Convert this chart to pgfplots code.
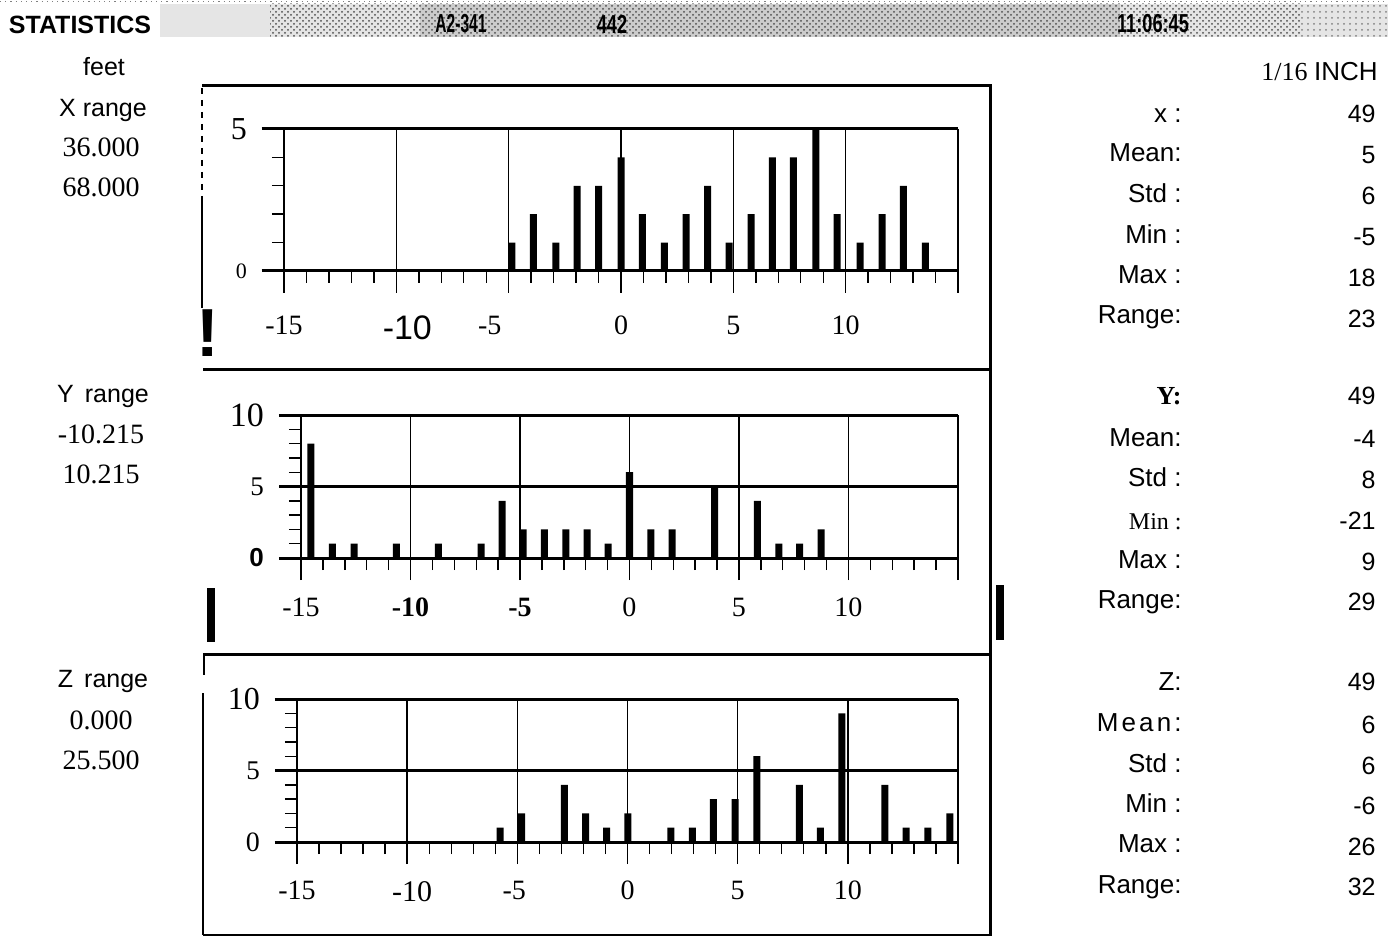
\documentclass[border=0pt]{standalone}
\usepackage{fontspec}
\setmainfont{Liberation Serif}
\setsansfont{Liberation Sans}
\usepackage{pgfplots}
\pgfplotsset{compat=1.18}
\usetikzlibrary{patterns}
\newcommand{\sx}[2]{\makebox[0pt]{\hspace*{#1}#2\hspace*{-#1}}}
\newcommand{\fs}[1]{\fontsize{#1}{#1}\selectfont}

\pgfplotsset{hist/.style={
  scale only axis, clip=false, anchor=south west,
  xmin=-15, xmax=15,
  axis line style={draw=none},
  xtick={-15,-10,...,15},
  minor xtick={-14,...,14},
  xtick pos=bottom, ytick pos=left, tick align=outside,
  major tick length=11pt, minor tick length=6pt,
  xmajorgrids, major grid style={line width=0.7pt, black},
  every tick/.style={black, line width=0.7pt},
  yticklabel style={xshift=-4pt},
  ybar, bar width=3.5pt,
}}

\begin{document}
\begin{tikzpicture}
% ---------------- X histogram
\begin{axis}[hist, at={(142pt,-135.5pt)}, width=337pt, height=71pt,
  ymin=0, ymax=5, ytick={0,5}, minor ytick={1,2,3,4},
  yticklabels={{\fs{11}0},{\fs{16}5}},
  xticklabels={{\fs{14}-15},{\sx{5.5pt}{\sffamily\fs{17}-10}},{\sx{-9.5pt}{\fs{14}-5}},{\fs{14}0},{\fs{14}5},{\fs{14}10},{}},
  xticklabel style={yshift=-8pt}]
\addplot[fill=black, draw=none] coordinates {
 (-4.86,1) (-3.90,2) (-2.90,1) (-1.95,3) (-1.00,3) (0.00,4) (0.95,2) (1.93,1)
 (2.90,2) (3.86,3) (4.81,1) (5.79,2) (6.74,4) (7.67,4) (8.67,5) (9.62,2)
 (10.64,1) (11.62,2) (12.57,3) (13.55,1)};
\draw[line width=1.5pt] (axis cs:-16,0) -- (axis cs:15,0);
\draw[line width=1.5pt] (axis cs:-16,5) -- (axis cs:15,5);
\end{axis}
% ---------------- Y histogram
\begin{axis}[hist, at={(150.5pt,-279pt)}, width=328.5pt, height=71.5pt,
  ymin=0, ymax=10, ytick={0,5,10}, minor ytick={1,...,9},
  yticklabels={{\sffamily\bfseries\fs{13}0},{\fs{13.5}5},{\fs{17}10}},
  xticklabels={{\fs{14}-15},{\fs{14}\bfseries -10},{\fs{14}\bfseries -5},{\fs{14}0},{\fs{14}5},{\fs{14}10},{}},
  xticklabel style={yshift=-5.5pt}]
\addplot[fill=black, draw=none] coordinates {
 (-14.55,8) (-13.57,1) (-12.57,1) (-10.64,1) (-8.73,1) (-6.77,1) (-5.82,4)
 (-4.86,2) (-3.89,2) (-2.91,2) (-1.93,2) (-0.98,1) (0.00,6) (0.98,2) (1.95,2)
 (3.89,5) (5.84,4) (6.82,1) (7.77,1) (8.75,2)};
\draw[line width=1.5pt] (axis cs:-16,0) -- (axis cs:15,0);
\draw[line width=1.5pt] (axis cs:-16,5) -- (axis cs:15,5);
\draw[line width=1.5pt] (axis cs:-16,10) -- (axis cs:15,10);
\end{axis}
% ---------------- Z histogram
\begin{axis}[hist, at={(148.5pt,-421pt)}, width=330.5pt, height=71.5pt,
  ymin=0, ymax=10, ytick={0,5,10}, minor ytick={1,...,9},
  yticklabels={{\fs{14}0},{\fs{13.5}5},{\fs{16}10}},
  xticklabels={{\fs{14}-15},{\sx{2.5pt}{\fs{15}-10}},{\sx{-1.5pt}{\fs{14}-5}},{\fs{14}0},{\fs{14}5},{\fs{14}10},{}},
  xticklabel style={yshift=-5pt}]
\addplot[fill=black, draw=none] coordinates {
 (-5.78,1) (-4.81,2) (-2.86,4) (-1.90,2) (-0.95,1) (0.02,2) (1.97,1) (2.95,1)
 (3.90,3) (4.88,3) (5.87,6) (7.80,4) (8.75,1) (9.73,9) (11.68,4) (12.65,1)
 (13.63,1) (14.63,2)};
\draw[line width=1.5pt] (axis cs:-16,0) -- (axis cs:15,0);
\draw[line width=1.5pt] (axis cs:-16,5) -- (axis cs:15,5);
\draw[line width=1.5pt] (axis cs:-16,10) -- (axis cs:15,10);
\end{axis}

\begin{scope}[x=0.5pt,y=-0.5pt]
\path[use as bounding box] (0,0) rectangle (1388,936);
% header band
\fill[gray!20] (160,4) rectangle (1388,37);
\fill[gray!40] (420,4) rectangle (1120,37);
\fill[pattern=crosshatch dots, pattern color=gray!60!black] (270,4) rectangle (1300,37);
\fill[pattern=dots, pattern color=gray] (1300,4) rectangle (1388,37);
\draw[gray, dotted, line width=0.6pt] (0,1.5) -- (1388,1.5);
\node[fill=white, inner sep=1pt] at (80,25) {\sffamily\bfseries\fs{12.5}STATISTICS};
\node at (461,24) {\sffamily\bfseries\fs{13}\scalebox{0.6}[1]{A2-341}};
\node at (612,24) {\sffamily\bfseries\fs{13}\scalebox{0.7}[1]{442}};
\node at (1153,24) {\sffamily\bfseries\fs{13}\scalebox{0.7}[1]{11:06:45}};
% frame
\draw[line width=1.5pt] (202,86) -- (990,86) -- (990,936);
\draw[line width=1.5pt] (203,370) -- (990,370);
\draw[line width=1.5pt] (203,654) -- (990,654);
\draw[line width=1.5pt] (203,935) -- (990,935);
\draw[line width=0.7pt, dashed] (202,88) -- (202,198);
\draw[line width=1.2pt] (202,198) -- (202,308);
\node at (208,333) {\sffamily\bfseries\fs{34}!};
\draw[line width=4pt] (211,588) -- (211,642);
\draw[line width=4pt] (1000,585) -- (1000,640);
\draw[line width=1pt] (204,654) -- (204,675);
\draw[line width=1pt] (203,693) -- (203,935);
% left labels
\begin{scope}[every node/.style={inner sep=0pt, text height=9pt, text depth=0pt}]
\node at (104,67) {\sffamily\fs{12.5}feet};
\node at (103,108) {\sffamily\fs{12.5}X range};
\node at (101,148) {\fs{14}36.000};
\node at (101,188) {\fs{14}68.000};
\node at (103,394) {\sffamily\fs{12.5}Y\, range};
\node at (101,435) {\fs{14}-10.215};
\node at (101,474) {\fs{14}10.215};
\node at (103,678) {\sffamily\fs{12.5}Z\, range};
\node at (101,720) {\fs{14}0.000};
\node at (101,760) {\fs{14}25.500};
% right labels
\node[anchor=east] at (1378,72) {\fs{13}1/16 \sffamily INCH};
\node[anchor=east] at (1182,114) {\sffamily\fs{13}x :};
\node[anchor=east] at (1182,153) {\sffamily\fs{13}Mean:};
\node[anchor=east] at (1182,194) {\sffamily\fs{13}Std :};
\node[anchor=east] at (1182,235) {\sffamily\fs{13}Min :};
\node[anchor=east] at (1182,275) {\sffamily\fs{13}Max :};
\node[anchor=east] at (1182,315) {\sffamily\fs{13}Range:};
\node[anchor=east] at (1376,114) {\sffamily\fs{12.5}49};
\node[anchor=east] at (1376,155) {\sffamily\fs{12.5}5};
\node[anchor=east] at (1376,196) {\sffamily\fs{12.5}6};
\node[anchor=east] at (1376,237) {\sffamily\fs{12.5}-5};
\node[anchor=east] at (1376,278) {\sffamily\fs{12.5}18};
\node[anchor=east] at (1376,319) {\sffamily\fs{12.5}23};
%
\node[anchor=east] at (1182,396) {\bfseries\fs{13}Y:};
\node[anchor=east] at (1182,437) {\sffamily\fs{13}Mean:};
\node[anchor=east] at (1182,478) {\sffamily\fs{13}Std :};
\node[anchor=east] at (1182,520) {\fs{12}Min :};
\node[anchor=east] at (1182,559) {\sffamily\fs{13}Max :};
\node[anchor=east] at (1182,599) {\sffamily\fs{13}Range:};
\node[anchor=east] at (1376,396) {\sffamily\fs{12.5}49};
\node[anchor=east] at (1376,438) {\sffamily\fs{12.5}-4};
\node[anchor=east] at (1376,479) {\sffamily\fs{12.5}8};
\node[anchor=east] at (1376,520) {\sffamily\fs{12.5}-21};
\node[anchor=east] at (1376,561) {\sffamily\fs{12.5}9};
\node[anchor=east] at (1376,601) {\sffamily\fs{12.5}29};
%
\node[anchor=east] at (1182,681) {\sffamily\fs{13}Z:};
\node[anchor=east] at (1182,722) {\sffamily\fs{13}\addfontfeatures{LetterSpace=12}Mean:};
\node[anchor=east] at (1182,763) {\sffamily\fs{13}Std :};
\node[anchor=east] at (1182,803) {\sffamily\fs{13}Min :};
\node[anchor=east] at (1182,843) {\sffamily\fs{13}Max :};
\node[anchor=east] at (1182,884) {\sffamily\fs{13}Range:};
\node[anchor=east] at (1376,681) {\sffamily\fs{12.5}49};
\node[anchor=east] at (1376,724) {\sffamily\fs{12.5}6};
\node[anchor=east] at (1376,765) {\sffamily\fs{12.5}6};
\node[anchor=east] at (1376,805) {\sffamily\fs{12.5}-6};
\node[anchor=east] at (1376,846) {\sffamily\fs{12.5}26};
\node[anchor=east] at (1376,886) {\sffamily\fs{12.5}32};
\end{scope}
\end{scope}
\end{tikzpicture}
\end{document}
